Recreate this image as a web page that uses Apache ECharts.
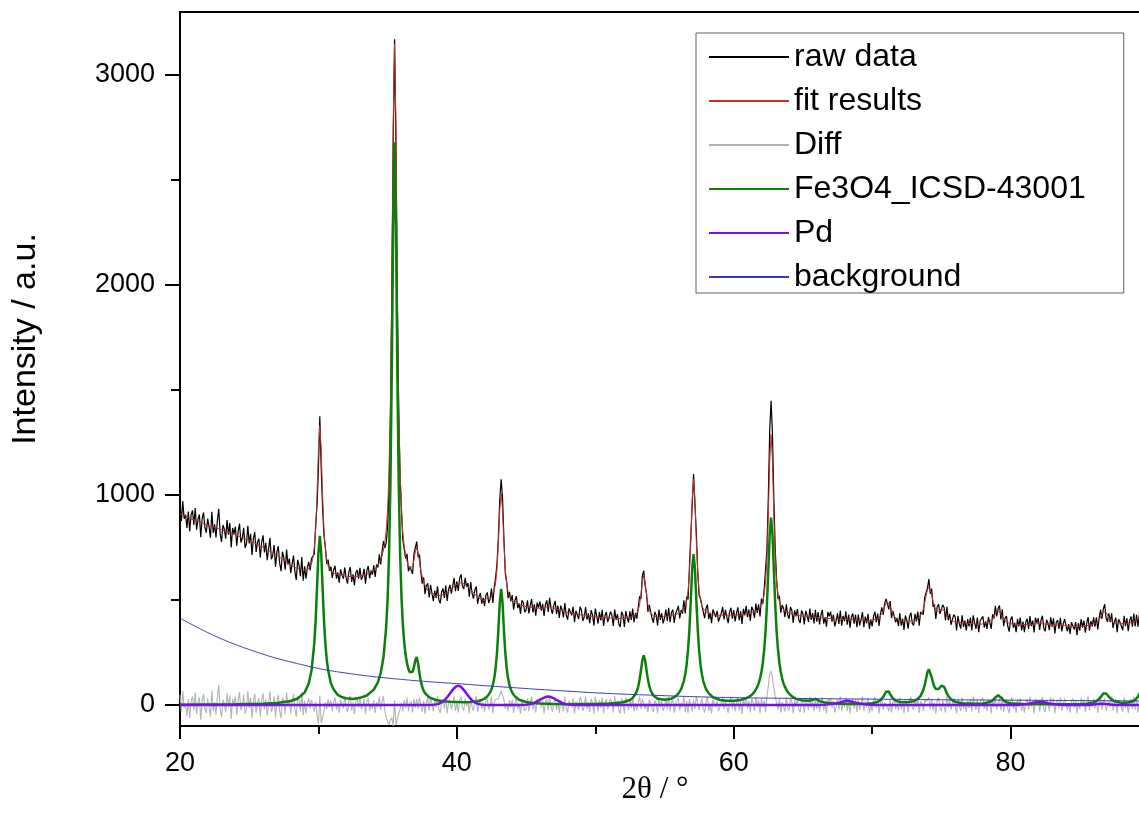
<!DOCTYPE html>
<html><head><meta charset="utf-8">
<script src="https://cdn.jsdelivr.net/npm/echarts@6.0.0/dist/echarts.min.js"></script>
<style>html,body{margin:0;padding:0;background:#fff}#chart{width:1139px;height:834px}</style>
</head><body><div id="chart"></div>
<script>
// 2θ grid of the measured pattern: 20.0 … 90.0 in 0.1° steps
const X_START = 20.0, X_STEP = 0.1;

// raw data (counts), one row per degree (x.0 … x.9)
const rawData = [
959,876,971,887,906,843,921,827,904,927,
857,938,835,885,907,799,888,917,845,820,
888,848,796,920,820,860,798,880,934,816,
776,857,838,792,881,811,866,750,843,815,
849,758,826,864,774,794,844,749,768,853,
769,815,714,791,824,729,775,792,702,776,
808,727,772,690,743,796,694,713,762,657,
729,756,675,637,730,703,644,740,669,697,
628,671,712,634,596,691,666,613,704,592,
660,601,655,682,641,697,692,719,855,952,
1125,1375,1129,939,806,755,672,692,639,659,
605,644,663,602,631,582,646,621,601,655,
605,578,634,657,586,622,570,630,643,602,
653,596,612,648,578,641,662,603,641,621,
665,610,669,655,718,669,733,780,748,773,
852,1016,1360,1938,2665,3170,2671,1927,1390,1090,
930,785,780,697,720,637,660,666,624,720,
716,778,705,716,632,578,608,528,568,580,
512,572,534,495,545,510,565,501,484,538,
555,510,569,495,550,572,530,566,606,542,
589,543,603,622,567,552,606,563,581,516,
585,532,507,548,565,481,516,533,483,510,
472,523,536,486,505,555,486,560,608,671,
802,980,1075,988,794,626,585,509,539,494,
523,454,499,518,461,484,434,498,488,442,
452,499,436,473,504,441,480,425,488,464,
494,449,482,424,480,498,443,511,460,434,
473,496,433,473,415,473,455,417,485,429,
405,460,466,427,468,394,449,456,409,468,
451,400,419,466,407,436,389,452,429,378,
459,425,388,442,403,453,376,426,443,395,
402,444,428,377,455,405,433,386,372,444,
430,372,447,419,392,446,405,459,394,438,
411,463,518,505,616,640,568,533,444,477,
468,413,391,444,428,379,454,405,437,389,
413,455,400,463,394,440,453,391,435,451,
472,412,452,435,499,436,517,502,656,808,
946,1100,956,819,642,520,507,502,444,414,
460,478,409,440,390,455,462,419,448,397,
393,437,467,407,453,420,390,442,463,411,
452,398,436,465,403,447,386,458,427,472,
418,455,400,468,452,414,483,439,479,422,
506,481,550,554,741,990,1309,1449,1289,980,
740,597,505,520,439,476,460,418,480,427,
411,467,451,391,451,422,457,406,391,450,
435,384,449,428,396,459,405,438,388,453,
397,442,384,429,453,388,418,373,443,422,
445,397,430,374,401,437,386,450,378,424,
399,446,382,431,368,419,436,387,430,370,
431,379,408,442,371,421,389,434,362,408,
374,423,445,395,435,376,434,465,429,482,
505,485,455,495,414,448,456,394,415,376,
438,378,411,358,426,404,364,421,440,389,
379,434,398,445,378,443,446,431,514,536,
559,600,529,554,467,479,410,468,480,434,
425,477,464,403,467,404,434,382,408,430,
420,355,424,387,364,427,372,402,355,409,
374,416,355,427,392,362,416,347,401,407,
422,369,398,362,419,411,362,432,411,472,
422,459,474,407,456,375,413,424,375,349,
407,422,368,391,347,410,374,416,355,397,
347,395,411,361,423,376,402,345,416,391,
414,358,404,425,366,351,406,391,356,418,
373,413,341,394,404,362,415,351,385,409,
414,351,385,338,394,403,359,395,333,390,
354,409,369,402,345,390,419,354,400,374,
417,373,417,360,414,454,410,457,480,414,
396,437,394,438,367,396,416,347,408,396,
404,356,425,375,414,352,401,422,373,435,
374,430,373,430,466,430,484,438,470,474,
422
];

// fit results, same grid
const fitResults = [
910,907,904,901,899,896,893,890,887,885,
882,879,877,874,872,869,867,864,862,859,
857,855,852,850,848,846,844,841,839,837,
835,832,830,827,825,822,820,817,815,812,
810,807,805,802,799,797,794,791,788,786,
783,780,777,774,771,768,764,761,758,755,
752,748,744,740,736,732,728,724,720,716,
712,708,703,699,694,690,686,681,677,672,
667,663,659,655,652,649,646,644,642,641,
640,641,645,650,659,672,700,749,840,1002,
1215,1330,1214,999,836,743,692,664,649,637,
635,629,627,624,623,620,620,617,617,615,
613,612,612,612,612,612,612,612,613,614,
615,616,618,620,622,625,628,631,635,639,
641,648,655,665,678,693,713,738,778,833,
932,1111,1430,1998,2765,3148,2766,1997,1430,1110,
920,815,755,712,685,665,652,648,660,690,
730,750,725,680,640,610,588,570,556,546,
538,532,528,525,523,522,521,521,522,523,
525,528,531,535,540,546,552,558,564,570,
575,579,581,582,581,578,574,569,563,556,
549,542,535,528,521,515,510,505,501,498,
504,505,506,508,511,517,526,546,582,651,
772,930,1008,928,769,646,577,539,517,506,
497,492,487,484,481,478,476,474,472,470,
468,467,466,465,464,463,462,461,460,460,
460,461,462,464,466,468,469,469,468,466,
463,460,457,455,453,451,449,447,445,443,
441,440,438,437,436,434,433,432,431,430,
429,428,427,426,425,424,423,422,421,420,
419,419,418,418,417,417,416,416,415,415,
414,414,414,413,413,413,413,412,412,412,
412,412,413,413,414,418,419,421,424,428,
437,451,478,525,586,617,586,525,478,451,
438,429,425,422,420,419,418,417,417,417,
421,421,422,423,424,426,427,429,431,433,
436,438,442,447,457,470,497,542,628,778,
976,1075,976,779,630,544,499,472,460,450,
444,440,437,434,432,431,430,429,428,427,
427,427,427,427,427,428,428,428,429,429,
428,428,428,429,429,429,430,430,431,432,
434,435,436,438,440,442,445,449,455,462,
476,493,528,588,701,900,1159,1289,1159,900,
700,587,527,492,475,462,454,448,444,441,
437,435,433,431,429,428,427,426,425,424,
423,422,421,420,420,419,419,418,418,417,
417,416,416,415,415,414,414,413,413,412,
411,411,410,410,409,409,408,408,408,408,
409,410,410,409,408,407,406,405,404,404,
403,403,402,402,401,401,401,400,400,400,
404,405,407,409,411,416,424,435,451,470,
485,493,485,469,450,434,422,414,407,404,
402,400,399,398,398,398,398,399,400,401,
403,404,408,411,416,425,438,459,488,522,
549,563,549,524,493,467,450,444,444,450,
455,455,450,439,427,416,408,404,400,398,
396,395,394,393,392,391,390,390,389,389,
388,388,387,387,386,386,386,385,385,385,
388,389,390,392,393,397,402,410,421,434,
444,449,444,433,420,409,401,396,391,389,
387,386,386,385,385,384,384,384,383,383,
383,383,383,383,383,384,384,385,386,387,
388,388,388,387,386,385,384,383,382,382,
381,381,381,380,380,380,379,379,379,379,
376,375,375,374,374,373,373,373,373,374,
374,375,375,376,377,378,379,380,382,384,
387,389,393,398,406,418,432,443,448,442,
430,417,406,398,393,390,388,387,386,386,
388,388,389,389,390,390,391,392,393,395,
398,402,409,418,432,448,462,468,462,448,
432
];

// difference curve, same grid
const diffData = [
49,-31,67,-14,7,-53,28,-63,17,42,
-25,59,-42,11,35,-70,21,53,-17,-39,
31,-7,-56,70,-28,14,-46,39,95,-21,
-59,25,8,-35,56,-11,46,-67,28,3,
39,-49,21,62,-25,-3,50,-42,-20,67,
-14,35,-63,17,53,-39,11,31,-56,21,
56,-21,28,-50,7,64,-34,-11,42,-59,
17,48,-28,-62,36,13,-42,59,-8,25,
-39,8,53,-21,-56,42,20,-31,62,-49,
20,-40,10,32,-18,25,-8,-30,15,-50,
-90,45,-85,-60,-30,12,-20,28,-10,22,
-30,15,36,-22,8,-38,26,4,-16,40,
-8,-34,22,45,-26,10,-42,18,30,-12,
38,-20,-6,28,-44,16,34,-28,6,-18,
24,-38,14,-10,40,-24,20,42,-30,-60,
-80,-95,-70,-60,-100,22,-95,-70,-40,-20,
10,-30,25,-15,35,-28,8,18,-36,30,
-14,28,-20,36,-8,-32,20,-42,12,34,
-26,40,6,-30,22,-12,44,-20,-38,15,
30,-18,38,-40,10,26,-22,8,42,-28,
14,-36,22,40,-14,-26,32,-6,18,-40,
36,-10,-28,20,44,-34,6,28,-18,12,
-32,18,30,-22,-6,38,-40,14,26,20,
30,50,67,60,25,-20,8,-30,22,-12,
26,-38,12,34,-20,6,-42,24,16,-28,
-16,32,-30,8,40,-22,18,-36,28,4,
34,-12,20,-40,14,30,-26,42,-8,-32,
10,36,-24,18,-38,22,6,-30,40,-14,
-36,20,28,-10,32,-40,16,24,-22,38,
22,-28,-8,40,-18,12,-34,30,8,-42,
40,6,-30,24,-14,36,-40,10,28,-20,
-12,30,14,-36,42,-8,20,-26,-40,32,
18,-40,34,6,-22,28,-14,38,-30,10,
-26,12,40,-20,30,23,-18,8,-34,26,
30,-16,-34,22,8,-40,36,-12,20,-28,
-8,34,-22,40,-30,14,26,-38,4,18,
36,-26,10,-12,42,-34,20,-40,28,30,
-30,25,-20,40,12,-24,8,30,-16,-36,
16,38,-28,6,-42,24,32,-10,20,-30,
-34,10,40,-20,26,-8,-38,14,34,-18,
24,-30,8,36,-26,18,-44,28,-4,40,
-16,20,-36,30,12,-28,38,-10,24,-40,
30,-12,22,-34,40,90,150,160,130,80,
40,10,-22,28,-36,14,6,-30,36,-14,
-26,32,18,-40,22,-6,30,-20,-34,26,
12,-38,28,8,-24,40,-14,20,-30,36,
-20,26,-32,14,38,-26,4,-40,30,10,
34,-14,20,-36,-8,28,-22,42,-30,16,
-10,36,-28,22,-40,12,30,-18,26,-34,
28,-24,6,40,-30,20,-12,34,-38,8,
-30,18,38,-14,24,-40,10,30,-22,12,
20,-8,-30,26,-36,14,34,-20,8,-28,
36,-22,12,-40,28,6,-34,22,40,-12,
-24,30,-10,34,-38,18,8,-28,26,14,
10,37,-20,30,-26,12,-40,24,36,-16,
-30,22,14,-36,40,-12,26,-22,8,32,
24,-40,30,-6,-28,36,-18,12,-34,20,
-14,28,-32,40,6,-24,30,-38,16,22,
34,-20,8,-30,26,14,-40,22,-10,38,
-22,10,30,-26,36,-34,12,28,-16,-40,
20,36,-18,6,-38,26,-10,32,-28,14,
-36,12,28,-22,40,-8,18,-40,30,4,
26,-30,16,38,-20,-34,22,8,-26,36,
-8,32,-40,14,24,-18,36,-28,6,30,
38,-24,10,-36,20,30,-14,22,-40,16,
-20,34,-6,26,-32,12,40,-26,18,-10,
30,-16,24,-38,8,36,-22,14,32,-28,
-34,20,-12,40,-26,6,28,-40,22,10,
16,-32,36,-14,24,-38,10,30,-20,40,
-24,28,-36,12,34,-18,22,-30,8,26,
-10
];

// Fe3O4_ICSD-43001 phase contribution [2θ, intensity]
const fe3o4 = [
[20,1],[22,2],[24,3],[26,6],[27,10],[28,19],[28.5,31],[29,59],[29.3,102],[29.5,164],[29.7,292],[29.8,404],[29.9,559],
[30,725],[30.1,805],[30.2,725],[30.3,559],[30.4,405],[30.5,293],[30.6,218],[30.7,166],[30.9,104],[31.1,74],[31.4,48],[31.7,37],
[32,32],[32.5,29],[33,34],[33.5,45],[34,73],[34.3,109],[34.5,152],[34.7,227],[34.9,376],[35,508],[35.1,715],[35.2,1052],
[35.3,1589],[35.4,2290],[35.5,2680],[35.6,2292],[35.7,1592],[35.8,1057],[35.9,722],[36,513],[36.1,382],[36.2,296],[36.3,238],
[36.4,198],[36.5,171],[36.6,156],[36.7,151],[36.8,158],[36.9,180],[37,213],[37.1,229],[37.2,198],[37.3,150],[37.4,111],
[37.5,86],[37.6,68],[37.7,56],[37.8,47],[38,36],[38.5,24],[39,18],[39.5,15],[40,14],[40.5,13],[41,14],[41.5,18],[41.8,24],
[42,30],[42.2,41],[42.4,60],[42.5,74],[42.6,96],[42.7,127],[42.8,175],[42.9,249],[43,358],[43.1,487],[43.2,553],[43.3,487],
[43.4,358],[43.5,249],[43.6,175],[43.7,127],[43.8,96],[43.9,74],[44,59],[44.2,40],[44.5,25],[45,14],[45.5,9],[46,7],[47,5],
[48,4],[49,5],[50,5],[51,7],[51.5,9],[52,13],[52.5,24],[52.7,33],[52.9,52],[53,66],[53.1,88],[53.2,120],[53.3,164],[53.4,213],
[53.5,236],[53.6,213],[53.7,166],[53.8,122],[53.9,91],[54,69],[54.2,45],[54.5,30],[55,25],[55.5,30],[55.8,41],[56,54],
[56.2,76],[56.4,114],[56.5,147],[56.6,193],[56.7,261],[56.8,362],[56.9,499],[57,648],[57.1,719],[57.2,648],[57.3,499],
[57.4,362],[57.5,261],[57.6,193],[57.7,147],[57.8,114],[58,76],[58.2,55],[58.5,37],[59,24],[59.5,20],[60,20],[60.5,24],
[61,35],[61.3,48],[61.5,62],[61.7,86],[61.8,103],[61.9,126],[62,157],[62.1,200],[62.2,262],[62.3,350],[62.4,477],[62.5,643],
[62.6,814],[62.7,892],[62.8,814],[62.9,643],[63,477],[63.1,350],[63.2,262],[63.3,200],[63.4,157],[63.5,126],[63.6,103],
[63.7,86],[63.9,61],[64.2,41],[64.5,29],[65,21],[65.5,20],[65.9,29],[66.3,16],[66.8,10],[67.5,6],[68.5,5],[69.5,5],[70,8],
[70.4,15],[70.6,23],[70.8,39],[70.9,51],[71,63],[71.1,69],[71.2,64],[71.3,52],[71.5,31],[71.7,21],[72,14],[72.5,13],[73,18],
[73.3,29],[73.5,43],[73.7,72],[73.8,96],[73.9,126],[74,158],[74.1,170],[74.2,161],[74.3,132],[74.4,105],[74.5,87],[74.6,76],
[74.7,73],[74.8,76],[74.9,84],[75,92],[75.1,94],[75.2,86],[75.3,71],[75.4,55],[75.5,43],[75.7,27],[76,15],[76.5,8],[77.5,6],
[78,7],[78.5,14],[78.7,22],[78.9,36],[79,44],[79.1,47],[79.2,44],[79.3,36],[79.5,22],[79.7,13],[80,8],[81,4],[82,3],[83,3],
[84,4],[85,4],[85.5,6],[86,12],[86.3,23],[86.5,37],[86.6,46],[86.7,55],[86.8,59],[86.9,55],[87,47],[87.2,32],[87.5,18],
[88,10],[88.5,12],[88.8,17],[89,24],[89.2,40],[89.3,52],[89.4,68],[89.5,85],[89.6,98],[89.7,100],[89.8,95],[89.9,82],[90,66]
];

// Pd phase contribution [2θ, intensity]
const pdPhase = [
[20,0],[38,0],[38.3,1],[38.5,3],[38.7,6],[38.9,12],[39.1,22],[39.3,37],[39.5,55],[39.7,72],[39.9,86],[40.1,92],[40.3,86],
[40.5,72],[40.7,55],[40.9,37],[41.1,22],[41.3,12],[41.5,6],[41.7,3],[41.9,1],[42.2,0],
[44.6,0],[45,1],[45.2,3],[45.4,5],[45.6,10],[45.8,17],[46,24],[46.2,32],[46.4,38],[46.6,40],[46.8,38],[47,32],[47.2,24],
[47.4,17],[47.6,10],[47.8,5],[48,3],[48.2,1],[48.6,0],
[66.2,0],[66.5,1],[66.9,3],[67.3,7],[67.7,12],[68,18],[68.2,20],[68.4,18],[68.7,12],[69.1,7],[69.5,3],[69.9,1],[70.2,0],
[80.4,0],[80.8,2],[81.2,5],[81.5,9],[81.8,13],[82.1,15],[82.4,13],[82.7,9],[83,5],[83.4,2],[83.8,0],
[85.6,0],[86,2],[86.3,5],[86.6,6],[86.9,5],[87.2,2],[87.6,0],[90,0]
];

// background [2θ, intensity]
const background = [
[20,414],[21,378],[22,345],[23,315],[24,288],[25,264],[26,242],[27,222],[28,205],[29,189],[30,174],[31,162],[32,152],
[33,143],[34,135],[35,128],[36,122],[37,116],[38,111],[39,106],[40,102],[42,92],[44,83],[46,74],[48,66],[50,58],[52,52],
[54,47],[56,42],[58,38],[60,35],[65,31],[70,28],[75,25],[80,23],[85,21],[90,19]
];

const seriesNames = ['raw data', 'fit results', 'Diff', 'Fe3O4_ICSD-43001', 'Pd', 'background'];
const xLabelTicks = [20, 40, 60, 80];
const xMinorTicks = [30, 50, 70, 90];
const yLabelTicks = [0, 1000, 2000, 3000];
const yMinorTicks = [500, 1500, 2500];

const onGrid = arr => arr.map((v, i) => [Math.round((X_START + i * X_STEP) * 10) / 10, v]);

const chart = echarts.init(document.getElementById('chart'), null, {renderer: 'canvas'});
const SANS = 'Liberation Sans, Arial, sans-serif';
const tickLine = {color: '#000', width: 2};

function lineSeries(name, data, color, width, extra) {
  return Object.assign({
    name, type: 'line', data, xAxisIndex: 0, yAxisIndex: 0,
    symbol: 'none', showSymbol: false, animation: false,
    lineStyle: {color, width}, itemStyle: {color},
    emphasis: {disabled: true}
  }, extra || {});
}

chart.setOption({
  animation: false,
  backgroundColor: '#fff',
  grid: {left: 180, width: 969, top: 12, height: 714, containLabel: false, outerBoundsMode: 'none',
         show: true, borderColor: '#000', borderWidth: 2, backgroundColor: 'transparent'},
  xAxis: [
    {type: 'value', min: 20, max: 90, interval: 10, position: 'bottom',
     axisLine: {show: true, onZero: false, lineStyle: tickLine},
     axisTick: {show: true, inside: false, length: 13, lineStyle: tickLine, customValues: xLabelTicks},
     axisLabel: {customValues: xLabelTicks, formatter: v => String(v), fontFamily: SANS, fontSize: 27, color: '#000', margin: 24},
     splitLine: {show: false}},
    {type: 'value', min: 20, max: 90, interval: 10, position: 'bottom',
     axisLine: {show: false, onZero: false},
     axisTick: {show: true, inside: false, length: 8, lineStyle: tickLine, customValues: xMinorTicks},
     axisLabel: {show: false}, splitLine: {show: false}}
  ],
  yAxis: [
    {type: 'value', min: -100, max: 3300, interval: 500, position: 'left',
     axisLine: {show: true, onZero: false, lineStyle: tickLine},
     axisTick: {show: true, inside: false, length: 15, lineStyle: tickLine, customValues: yLabelTicks},
     axisLabel: {customValues: yLabelTicks, formatter: v => String(v), fontFamily: SANS, fontSize: 27, color: '#000', margin: 25},
     splitLine: {show: false}},
    {type: 'value', min: -100, max: 3300, interval: 500, position: 'left',
     axisLine: {show: false, onZero: false},
     axisTick: {show: true, inside: false, length: 9, lineStyle: tickLine, customValues: yMinorTicks},
     axisLabel: {show: false}, splitLine: {show: false}}
  ],
  legend: {
    orient: 'vertical', left: 696, top: 33,
    padding: [8, 38, 0, 12], itemGap: 12, itemWidth: 80, itemHeight: 14,
    borderColor: '#606060', borderWidth: 1, backgroundColor: '#fff',
    itemStyle: {opacity: 0},
    textStyle: {fontFamily: SANS, fontSize: 32, lineHeight: 32, color: '#000'},
    selectedMode: false,
    data: seriesNames
  },
  graphic: [
    {type: 'text', x: 26, y: 339, rotation: Math.PI / 2,
     style: {text: 'Intensity / a.u.', fontFamily: SANS, fontSize: 34, fill: '#000', align: 'center', verticalAlign: 'middle'}},
    {type: 'text', x: 655, y: 790,
     style: {text: '2θ / °', fontFamily: 'Liberation Serif, Times New Roman, serif', fontSize: 31, fill: '#000', align: 'center', verticalAlign: 'middle'}}
  ],
  series: [
    lineSeries(seriesNames[0], onGrid(rawData), '#000000', 1.2),
    lineSeries(seriesNames[1], onGrid(fitResults), '#c0302c', 1),
    lineSeries(seriesNames[2], onGrid(diffData), '#b4b4b4', 1.1),
    lineSeries(seriesNames[3], fe3o4, '#0a800a', 2.5),
    lineSeries(seriesNames[4], pdPhase, '#7a10e8', 2.5),
    lineSeries(seriesNames[5], background, '#3a3ab8', 1, {smooth: true})
  ]
});
</script>
</body></html>
